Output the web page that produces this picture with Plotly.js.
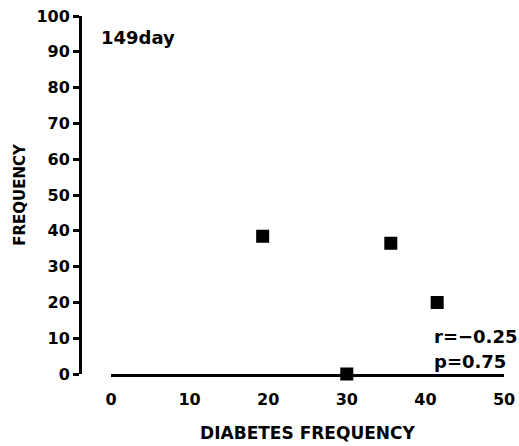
<!DOCTYPE html>
<html>
<head>
<meta charset="utf-8">
<script src="https://cdn.plot.ly/plotly-3.0.1.min.js"></script>
<style>
  html, body { margin: 0; padding: 0; background: #fff; }
  #chart { width: 519px; height: 446px; }
</style>
</head>
<body>
<div id="chart"></div>
<script>
// Diabetes frequency vs. frequency, day 149
const diabetesFreq = [19.3, 35.6, 41.5, 30.0];
const frequency = [38.5, 36.5, 20.0, 0.0];
const xTicks = [0, 10, 20, 30, 40, 50];
const yTicks = [0, 10, 20, 30, 40, 50, 60, 70, 80, 90, 100];
const panelLabel = '149day';
const statR = 'r=\u22120.25';
const statP = 'p=0.75';

const FONT = 'DejaVu Sans, Arial, sans-serif';

const trace = {
  type: 'scatter',
  mode: 'markers',
  x: diabetesFreq,
  y: frequency,
  cliponaxis: false,
  marker: {
    symbol: 'square',
    size: 11,
    color: '#000',
    line: { color: '#000', width: 2 }
  },
  hoverinfo: 'skip'
};

const layout = {
  width: 519,
  height: 446,
  margin: { l: 80, r: 15, t: 16, b: 72 },
  paper_bgcolor: '#fff',
  plot_bgcolor: '#fff',
  showlegend: false,
  font: { family: FONT, color: '#000', size: 16 },
  xaxis: {
    domain: [0.073, 1],
    range: [0, 50],
    tickvals: xTicks,
    ticktext: xTicks.map(String),
    ticks: '',
    showgrid: false,
    zeroline: false,
    showline: true,
    linecolor: '#000',
    linewidth: 3,
    ticklabelstandoff: 9,
    tickfont: { family: FONT, size: 16, color: '#000', weight: 'bold' },
    title: {
      text: 'DIABETES FREQUENCY',
      font: { family: FONT, size: 17, color: '#000', weight: 'bold' },
      standoff: 19
    }
  },
  yaxis: {
    anchor: 'free',
    position: 0,
    range: [0, 100],
    tickvals: yTicks,
    ticktext: yTicks.map(String),
    ticks: 'outside',
    ticklen: 6,
    tickwidth: 3,
    tickcolor: '#000',
    showgrid: false,
    zeroline: false,
    showline: true,
    linecolor: '#000',
    linewidth: 2.5,
    tickfont: { family: FONT, size: 16, color: '#000', weight: 'bold' },
    title: {
      text: 'FREQUENCY',
      font: { family: FONT, size: 15, color: '#000', weight: 'bold' },
      standoff: 6
    }
  },
  annotations: [
    {
      text: panelLabel, x: 0.045, y: 0.941, xref: 'paper', yref: 'paper',
      xanchor: 'left', yanchor: 'middle', showarrow: false,
      font: { family: FONT, size: 18, color: '#000', weight: 'bold' }
    },
    {
      text: statR, x: 40.8, y: 10.4, xref: 'x', yref: 'y',
      xanchor: 'left', yanchor: 'middle', showarrow: false,
      font: { family: FONT, size: 18, color: '#000', weight: 'bold' }
    },
    {
      text: statP, x: 40.9, y: 3.6, xref: 'x', yref: 'y',
      xanchor: 'left', yanchor: 'middle', showarrow: false,
      font: { family: FONT, size: 18, color: '#000', weight: 'bold' }
    }
  ]
};

Plotly.newPlot('chart', [trace], layout, { displayModeBar: false, staticPlot: true });
</script>
</body>
</html>
